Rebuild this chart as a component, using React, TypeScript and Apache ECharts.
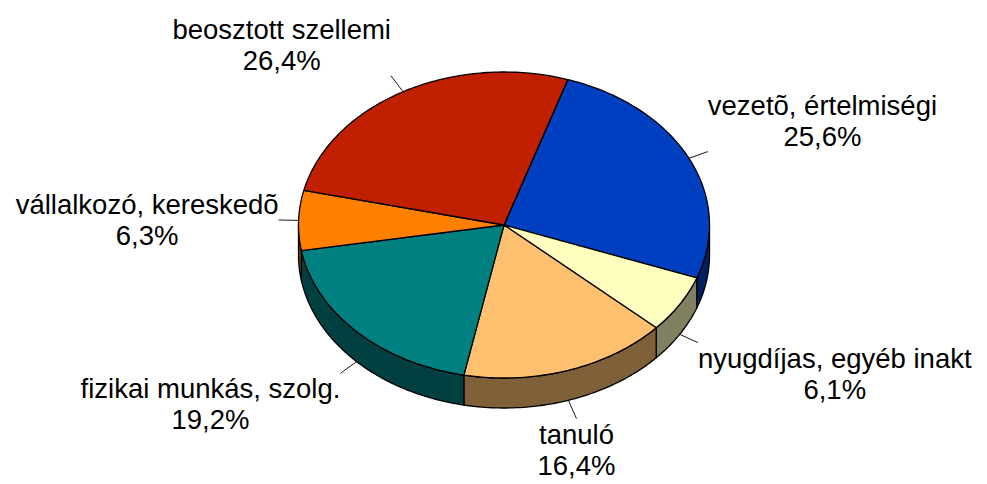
import React, { useEffect, useRef } from "react";
import * as echarts from "echarts";

// ---- data ----
const categories = [
  "vezetõ, értelmiségi",
  "nyugdíjas, egyéb inakt",
  "tanuló",
  "fizikai munkás, szolg.",
  "vállalkozó, kereskedõ",
  "beosztott szellemi",
];
const values = [25.6, 6.1, 16.4, 19.2, 6.3, 26.4];

// ---- styles ----
const topColors = ["#0040C0", "#FFFFC0", "#FFC070", "#008080", "#FF8000", "#C02000"];
const sideColors = ["#002060", "#808060", "#806038", "#004040", "#804000", "#601000"];

// ---- layout ----
const START_ANGLE = 18.1; // degrees clockwise from 12 o'clock
const CX = 504;
const CY = 225;
const RX = 205.5;
const RY = 153;
const DEPTH = 30;
const LEADER = 20;
const FONT_SIZE = 27.5;
const LINE_H = 31;
const FONT_FAMILY = '"Liberation Sans", Arial, sans-serif';
const FONT = `${FONT_SIZE}px ${FONT_FAMILY}`;

const total = values.reduce((a, b) => a + b, 0);
const fmt = (v: number) => v.toFixed(1).replace(".", ",") + "%";

let measureCtx: CanvasRenderingContext2D | null = null;
function measure(t: string): number {
  if (!measureCtx) {
    const c = document.createElement("canvas");
    measureCtx = c.getContext("2d");
  }
  if (!measureCtx) return t.length * FONT_SIZE * 0.5;
  measureCtx.font = FONT;
  return measureCtx.measureText(t).width;
}

function pt(deg: number, dy = 0): number[] {
  const r = (deg * Math.PI) / 180;
  return [CX + RX * Math.sin(r), CY - RY * Math.cos(r) + dy];
}
function arc(s: number, e: number, dy = 0): number[][] {
  const pts: number[][] = [];
  const n = Math.max(2, Math.ceil(e - s));
  for (let j = 0; j <= n; j++) pts.push(pt(s + ((e - s) * j) / n, dy));
  return pts;
}

function renderItem(params: any, api: any) {
  const i = params.dataIndex;
  const v = api.value(0);
  let before = 0;
  for (let k = 0; k < i; k++) before += values[k];
  const a0 = START_ANGLE + (before / total) * 360;
  const a1 = a0 + (v / total) * 360;
  const children: any[] = [];

  // side wall (front half only: 90..270 deg)
  for (const off of [0, 360]) {
    const s = Math.max(a0, 90 + off);
    const e = Math.min(a1, 270 + off);
    if (e > s) {
      const top = arc(s, e);
      const bot = arc(s, e, DEPTH).reverse();
      children.push({
        type: "polygon",
        z2: 1,
        shape: { points: top.concat(bot) },
        style: { fill: sideColors[i], stroke: "#000", lineWidth: 1.3, lineJoin: "round" },
      });
    }
  }

  // top face
  children.push({
    type: "polygon",
    z2: 2,
    shape: { points: [[CX, CY], ...arc(a0, a1)] },
    style: { fill: topColors[i], stroke: "#000", lineWidth: 1.3, lineJoin: "round" },
  });

  // label + leader line
  const mid = (a0 + a1) / 2;
  const mr = (mid * Math.PI) / 180;
  const front = Math.cos(mr) < 0;
  const p0 = pt(mid, front ? DEPTH : 0);
  let dx = RX * Math.sin(mr);
  let dy = -RY * Math.cos(mr);
  const len = Math.hypot(dx, dy);
  dx /= len;
  dy /= len;
  const p1 = [p0[0] + dx * LEADER, p0[1] + dy * LEADER];
  children.push({
    type: "line",
    z2: 3,
    shape: { x1: p0[0], y1: p0[1], x2: p1[0], y2: p1[1] },
    style: { stroke: "#000", lineWidth: 0.9 },
  });
  const lines = [categories[i], fmt(v)];
  const w = Math.max(...lines.map(measure));
  const hx = Math.abs(dx) < 0.5 ? 0 : Math.sign(dx);
  const vy = Math.abs(dy) < 0.2 ? 0 : Math.sign(dy);
  children.push({
    type: "text",
    z2: 3,
    style: {
      text: lines.join("\n"),
      x: p1[0] + (hx * w) / 2,
      y: p1[1],
      align: "center",
      verticalAlign: vy === 0 ? "middle" : vy > 0 ? "top" : "bottom",
      font: FONT,
      fontSize: FONT_SIZE,
      fontFamily: FONT_FAMILY,
      lineHeight: LINE_H,
      fill: "#000",
    },
  });

  return { type: "group", children };
}

export default function App() {
  const ref = useRef<HTMLDivElement>(null);
  useEffect(() => {
    if (!ref.current) return;
    const chart = echarts.init(ref.current, undefined, { renderer: "svg" });
    chart.setOption({
      animation: false,
      backgroundColor: "#ffffff",
      series: [
        {
          type: "custom",
          coordinateSystem: "none",
          silent: true,
          renderItem,
          data: values.map((v, i) => ({ name: categories[i], value: [v] })),
        },
      ],
    });
    return () => chart.dispose();
  }, []);
  return (
    <div
      ref={ref}
      style={{ position: "fixed", left: 0, top: 0, width: 987, height: 484, background: "#fff" }}
    />
  );
}
